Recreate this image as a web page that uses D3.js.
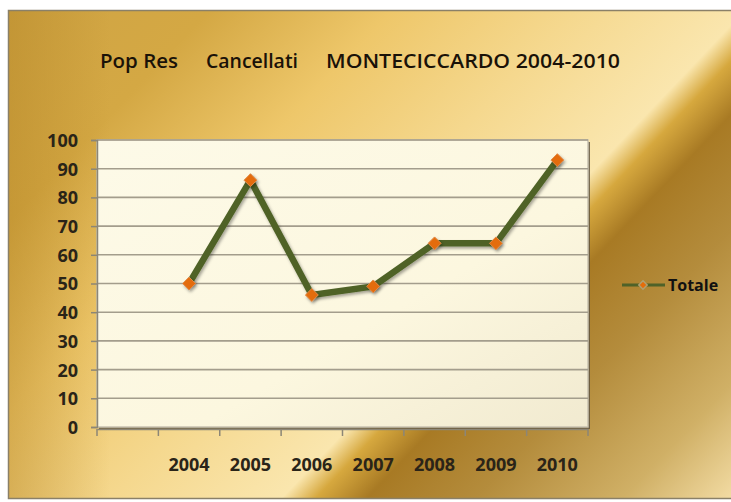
<!DOCTYPE html>
<html><head><meta charset="utf-8">
<script src="https://cdn.jsdelivr.net/npm/d3@7"></script>
<style>html,body{margin:0;padding:0;background:#fff;}svg{display:block;}</style>
</head><body>
<script>
const categories = ["", "2004", "2005", "2006", "2007", "2008", "2009", "2010"];
const years = ["2004", "2005", "2006", "2007", "2008", "2009", "2010"];
const totale = [50, 86, 46, 49, 64, 64, 93];
const yTicks = [0, 10, 20, 30, 40, 50, 60, 70, 80, 90, 100];
const titleParts = ["Pop Res", "Cancellati", "MONTECICCARDO 2004-2010"];
const seriesName = "Totale";

(function () {
const W = 731, H = 502;
const svg = d3.select("body").append("svg").attr("width", W).attr("height", H);
const defs = svg.append("defs");

const bg = defs.append("linearGradient").attr("id", "bg")
  .attr("gradientUnits", "userSpaceOnUse")
  .attr("x1", 0).attr("y1", 0).attr("x2", 640).attr("y2", 608);
[[0, "#cfa444"], [0.18, "#d4a844"], [0.33, "#eec76a"], [0.48, "#f5d88e"], [0.62, "#fae6ae"],
 [0.648, "#d6a83e"], [0.69, "#a87a24"], [0.78, "#b48c3c"], [0.9, "#d0b066"], [1, "#f6e0aa"]]
 .forEach(([o, c]) => bg.append("stop").attr("offset", o).attr("stop-color", c));
const lg = defs.append("linearGradient").attr("id", "leftdark").attr("x1", 0).attr("x2", 1).attr("y1", 0).attr("y2", 0);
lg.append("stop").attr("offset", 0).attr("stop-color", "#b08020").attr("stop-opacity", 0.4);
lg.append("stop").attr("offset", 0.14).attr("stop-color", "#b08020").attr("stop-opacity", 0);
const pg = defs.append("linearGradient").attr("id", "plotbg").attr("x1", 0).attr("y1", 0).attr("x2", 1).attr("y2", 1);
pg.append("stop").attr("offset", 0).attr("stop-color", "#fdfae8");
pg.append("stop").attr("offset", 0.6).attr("stop-color", "#fcf7df");
pg.append("stop").attr("offset", 1).attr("stop-color", "#f1ead0");
const sh = defs.append("filter").attr("id", "shadow").attr("x", "-50%").attr("y", "-50%").attr("width", "200%").attr("height", "200%");
sh.append("feDropShadow").attr("dx", 1.5).attr("dy", 2).attr("stdDeviation", 1.5).attr("flood-color", "#000").attr("flood-opacity", 0.35);

svg.append("rect").attr("x", 0).attr("y", 0).attr("width", W).attr("height", H).attr("fill", "#ffffff");
svg.append("rect").attr("x", 8).attr("y", 10).attr("width", W).attr("height", 489).attr("fill", "url(#bg)");
svg.append("rect").attr("x", 8).attr("y", 10).attr("width", W).attr("height", 489).attr("fill", "url(#leftdark)");
svg.append("rect").attr("x", 8.5).attr("y", 10.5).attr("width", W).attr("height", 488)
  .attr("fill", "none").attr("stroke", "#8a8068").attr("stroke-width", 1.5);

const pLeft = 97, pRight = 588, pTop = 140, pBottom = 427;
const x = d3.scaleBand().domain(categories).range([pLeft, pRight]).padding(0);
const y = d3.scaleLinear().domain([0, 100]).range([pBottom, pTop]);

svg.append("rect").attr("x", pLeft + 2).attr("y", pTop + 2).attr("width", pRight - pLeft).attr("height", pBottom - pTop)
  .attr("fill", "#5a5040").attr("opacity", 0.8);
svg.append("rect").attr("x", pLeft).attr("y", pTop).attr("width", pRight - pLeft).attr("height", pBottom - pTop)
  .attr("fill", "url(#plotbg)").attr("stroke", "#c8c2b0").attr("stroke-width", 1.5);

svg.append("g").selectAll("line").data(yTicks.filter(d => d > 0)).join("line")
  .attr("x1", pLeft).attr("x2", pRight).attr("y1", d => y(d)).attr("y2", d => y(d))
  .attr("stroke", "#a39d8c").attr("stroke-width", 1.6);

const yAxis = svg.append("g").attr("transform", `translate(${pLeft},0)`)
  .call(d3.axisLeft(y).tickValues(yTicks).tickSize(6).tickPadding(13));
yAxis.select(".domain").attr("stroke", "#8c8676").attr("stroke-width", 1.5);
yAxis.selectAll(".tick line").attr("stroke", "#8c8676").attr("stroke-width", 1.5);
yAxis.selectAll("text").attr("font-family", "'Open Sans'").attr("font-weight", 700)
  .attr("font-size", 18).attr("fill", "#2a2418").attr("dy", "0.36em");

const xAxis = svg.append("g").attr("transform", `translate(0,${pBottom + 2})`)
  .call(d3.axisBottom(x).tickSize(0).tickFormat(""));
xAxis.select(".domain").attr("stroke", "#8c8676").attr("stroke-width", 1.5);
xAxis.selectAll(".tick").remove();
const bounds = categories.map(c => x(c)).concat([pRight]);
xAxis.selectAll("line.tk").data(bounds).join("line").attr("class", "tk")
  .attr("x1", d => d).attr("x2", d => d).attr("y1", 0).attr("y2", 7)
  .attr("stroke", "#8c8676").attr("stroke-width", 1.5);
svg.append("g").selectAll("text").data(years).join("text")
  .attr("x", d => x(d) + x.bandwidth() / 2).attr("y", 471)
  .attr("text-anchor", "middle").attr("font-family", "'Open Sans'").attr("font-weight", 700)
  .attr("font-size", 18).attr("fill", "#2a2418").text(d => d);

const line = d3.line().x((d, i) => x(years[i]) + x.bandwidth() / 2).y(d => y(d));
svg.append("path").datum(totale).attr("d", line).attr("fill", "none")
  .attr("stroke", "#4f6228").attr("stroke-width", 6.5).attr("stroke-linejoin", "miter")
  .attr("filter", "url(#shadow)");

const sym = d3.symbol().type(d3.symbolDiamond2).size(105);
svg.append("g").selectAll("path").data(totale).join("path")
  .attr("transform", (d, i) => `translate(${x(years[i]) + x.bandwidth() / 2},${y(d)})`)
  .attr("d", sym).attr("fill", "#e46c0a").attr("stroke", "#e08a48").attr("stroke-width", 1)
  .attr("filter", "url(#shadow)");

const tpos = [[100, 78], [206, 92], [326, 294]];
svg.append("g").selectAll("text").data(titleParts).join("text")
  .attr("x", (d, i) => tpos[i][0]).attr("y", 68)
  .attr("textLength", (d, i) => tpos[i][1]).attr("lengthAdjust", "spacingAndGlyphs")
  .attr("font-family", "'Open Sans'").attr("font-weight", 600).attr("font-size", 20)
  .attr("fill", "#1a1208").text(d => d);

const lgG = svg.append("g");
lgG.append("line").attr("x1", 622).attr("x2", 665).attr("y1", 285).attr("y2", 285)
  .attr("stroke", "#4f6228").attr("stroke-width", 3);
lgG.append("path").attr("transform", "translate(643,285)").attr("d", d3.symbol().type(d3.symbolDiamond2).size(45))
  .attr("fill", "#e46c0a").attr("stroke", "#b0a070").attr("stroke-width", 1.5);
lgG.append("text").attr("x", 668).attr("y", 291).attr("font-family", "'Open Sans'").attr("font-weight", 700)
  .attr("font-size", 16).attr("fill", "#111").text(seriesName);
})();
</script>
</body></html>
